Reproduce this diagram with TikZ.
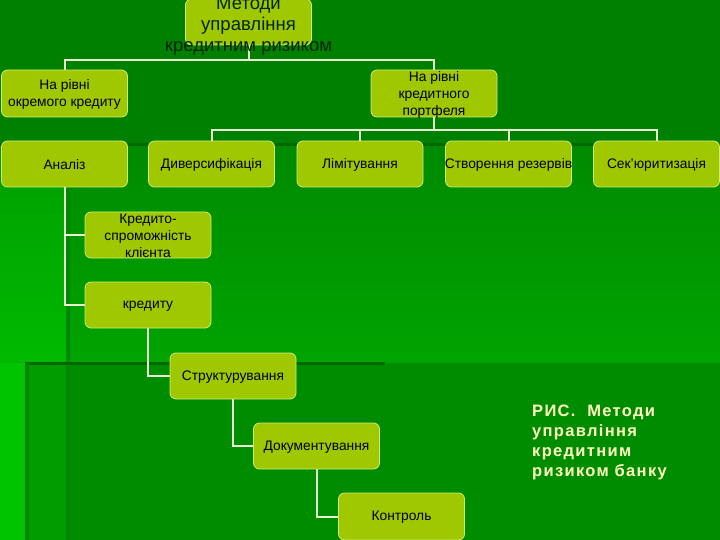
\documentclass[tikz,border=0pt]{standalone}
\usepackage{fontspec}
\setmainfont{Liberation Sans}
\newfontfamily\capfont{Liberation Sans}[LetterSpace=8]
\definecolor{bgtop}{HTML}{008000}
\definecolor{bgmidA}{HTML}{008A00}
\definecolor{bgmidB}{HTML}{00A400}
\definecolor{bgbot}{HTML}{008C00}
\definecolor{leftA}{HTML}{009E00}
\definecolor{leftB}{HTML}{00BA00}
\definecolor{leftD}{HTML}{00C400}
\definecolor{leftC}{HTML}{009C00}
\definecolor{boxfill}{HTML}{9FC800}
\definecolor{boxline}{HTML}{CDEB7A}
\definecolor{conn}{HTML}{E6F4D2}
\definecolor{darkln}{HTML}{006800}
\definecolor{softln}{HTML}{008600}
\definecolor{capcol}{HTML}{FFFFC0}
\pgfdeclarelayer{bglayer}
\pgfdeclarelayer{connlayer}
\pgfsetlayers{bglayer,connlayer,main}
\tikzset{
  bx/.style={draw=boxline, line width=0.8pt, fill=boxfill, rounded corners=6pt,
    minimum width=126pt, minimum height=46pt, inner sep=0pt},
  txt/.style={align=center, font=\fontsize{13.8}{17}\selectfont, text=black, inner sep=0pt, yshift=-1pt},
  bigtxt/.style={align=center, font=\fontsize{18.5}{21}\selectfont, text=black!85!green, inner sep=0pt, yshift=-4pt},
  con/.style={draw=conn, line width=2pt},
  dline/.style={draw=darkln, line width=3pt},
  sline/.style={draw=softln, line width=4pt},
}
\begin{document}
\begin{tikzpicture}[x=1pt,y=-1pt]
\useasboundingbox (0,0) rectangle (720,540);
\begin{pgfonlayer}{bglayer}
\fill[bgtop] (0,0) rectangle (720,145);
\shade[top color=bgmidA, bottom color=bgmidB] (0,145) rectangle (720,363);
\fill[bgbot] (0,363) rectangle (720,540);
\shade[top color=leftA, bottom color=leftB] (0,145) rectangle (66,363);
\fill[leftD] (0,363) rectangle (27,540);
\fill[leftC] (27,363) rectangle (66,540);
\draw[dline] (0,145) -- (720,145);
\draw[sline] (68,145) -- (68,540);
\draw[dline] (25,363) -- (385,363);
\draw[sline] (27,363) -- (27,540);
\end{pgfonlayer}
% boxes
\node[bx, label={[bigtxt]center:Методи\\управління\\кредитним ризиком}] (top) at (248.5,22) {};
\node[bx, minimum height=47pt, label={[txt]center:На рівні\\окремого кредиту}] (l1) at (64.5,93.5) {};
\node[bx, minimum height=47pt, label={[txt]center:На рівні\\кредитного\\портфеля}] (r1) at (434,93.5) {};
\node[bx, label={[txt]center:Аналіз}] (an) at (64.5,164) {};
\node[bx, label={[txt]center:Диверсифікація}] (div) at (211.5,164) {};
\node[bx, label={[txt]center:Лімітування}] (lim) at (360,164) {};
\node[bx, label={[txt]center:Створення резервів}] (res) at (508.5,164) {};
\node[bx, label={[txt]center:Сек'юритизація}] (sec) at (656.5,164) {};
\node[bx, label={[txt]center:Кредито-\\спроможність\\клієнта}] (kz) at (148,235) {};
\node[bx, label={[txt]center:кредиту}] (kr) at (148,305) {};
\node[bx, label={[txt]center:Структурування}] (st) at (233,376) {};
\node[bx, label={[txt]center:Документування}] (doc) at (316.5,446) {};
\node[bx, minimum height=47pt, label={[txt]center:Контроль}] (kon) at (401.5,516.5) {};
% connectors (behind boxes)
\coordinate (j1) at (248.5,60);
\coordinate (j2) at (434,130);
\begin{pgfonlayer}{connlayer}
\draw[con] (top.south) -- (j1);
\draw[con] (l1.north) |- (j1) -| (r1.north);
\draw[con] (r1.south) -- (j2);
\draw[con] (div.north) |- (j2) -| (sec.north);
\draw[con] (lim.north) |- (j2);
\draw[con] (res.north) |- (j2);
\draw[con] (an.south) |- (kz.west);
\draw[con] (an.south) |- (kr.west);
\draw[con] (kr.south) |- (st.west);
\draw[con] (st.south) |- (doc.west);
\draw[con] (doc.south) |- (kon.west);
\end{pgfonlayer}
% caption
\node[anchor=north west, align=left, text=capcol, inner sep=0pt,
  font=\capfont\bfseries\fontsize{16.5}{20}\selectfont] (cap) at (532,405)
  {РИС.~ Методи\\управління\\кредитним\\ризиком банку};
\end{tikzpicture}
\end{document}
